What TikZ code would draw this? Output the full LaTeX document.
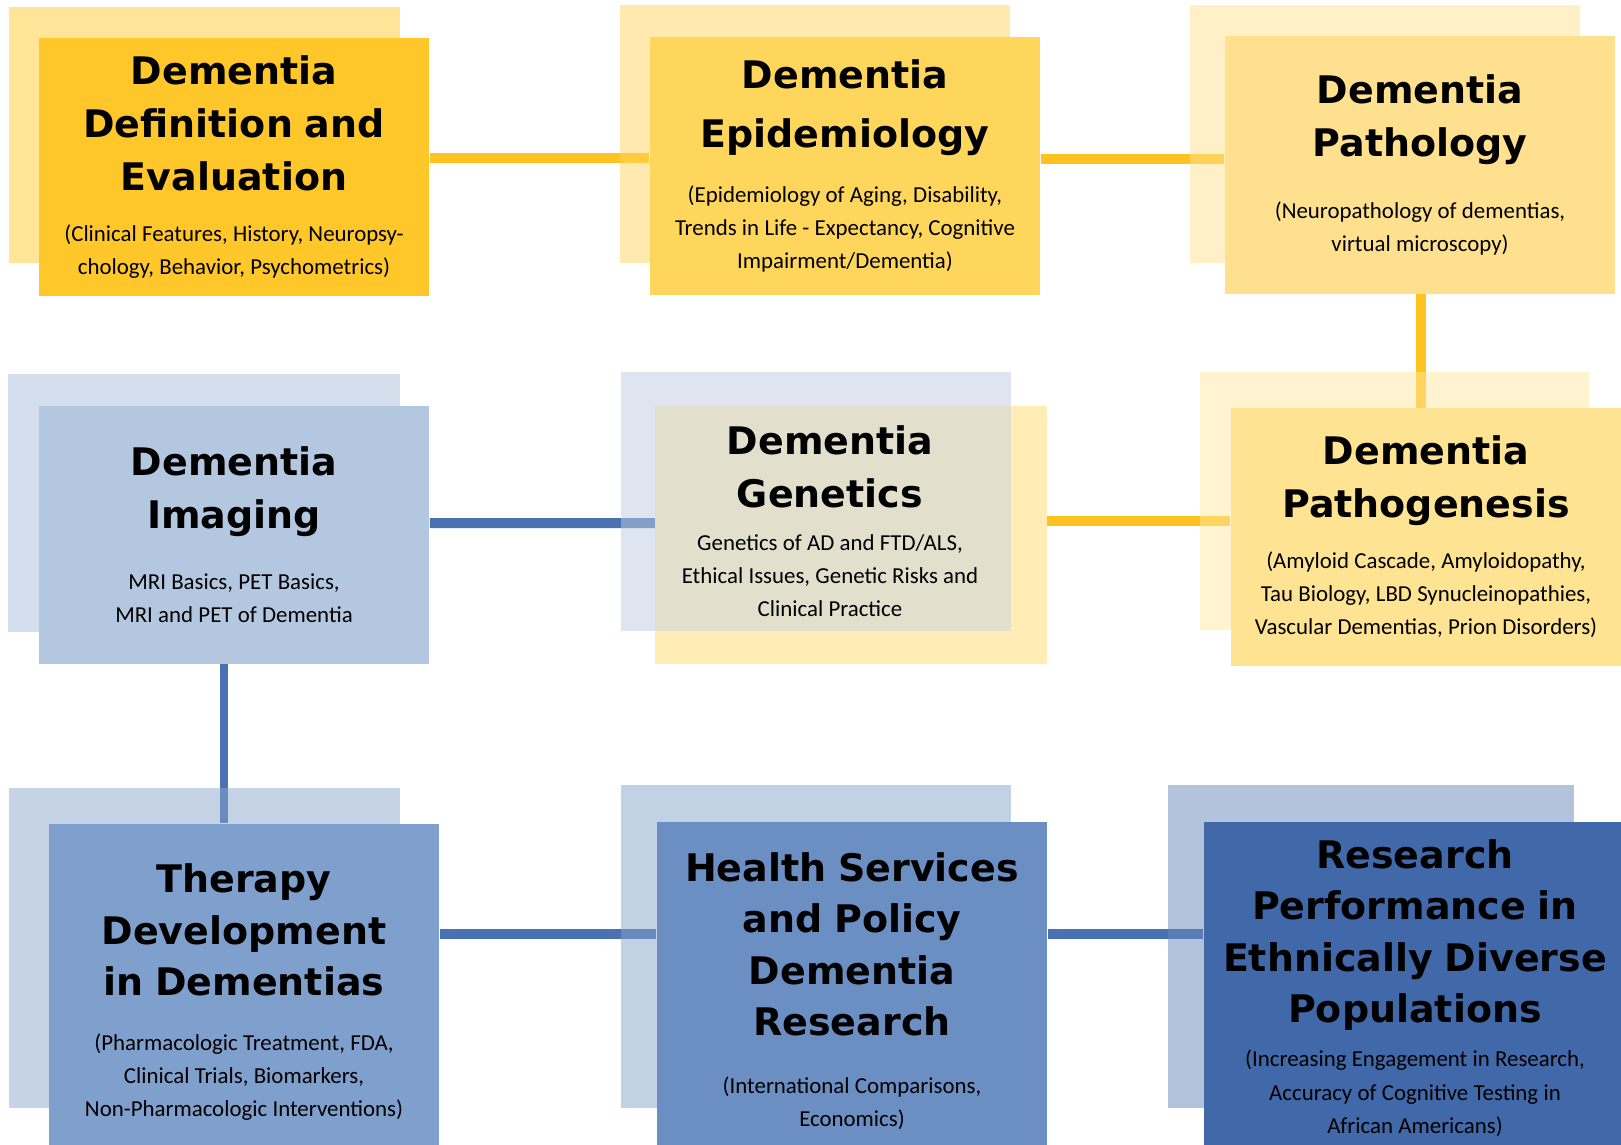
\documentclass[tikz,border=0pt]{standalone}
\usepackage{fontspec}
\setmainfont{Carlito}
\newfontfamily\headfont{DejaVu Sans}
\usepackage{xcolor}
\definecolor{defnF}{HTML}{FFC729}
\definecolor{defnB}{HTML}{FFCB2F}
\definecolor{epidF}{HTML}{FFD65C}
\definecolor{epidB}{HTML}{FFD35F}
\definecolor{pathoF}{HTML}{FEE08E}
\definecolor{pathoB}{HTML}{FFE191}
\definecolor{pathogF}{HTML}{FEE392}
\definecolor{pathogB}{HTML}{FFE7A1}
\definecolor{imagF}{HTML}{B4C7E1}
\definecolor{imagB}{HTML}{ABBDDB}
\definecolor{genetF}{HTML}{FFEDB5}
\definecolor{genetB}{HTML}{BDCBE1}
\definecolor{genetO}{HTML}{E2E0CC}
\definecolor{therF}{HTML}{7F9FCC}
\definecolor{therB}{HTML}{8DA7CF}
\definecolor{healthF}{HTML}{6B8EC3}
\definecolor{healthB}{HTML}{87A3CB}
\definecolor{resF}{HTML}{4169A9}
\definecolor{resB}{HTML}{6987B9}
\definecolor{linkY}{HTML}{FFC31F}
\definecolor{linkB}{HTML}{4A72B0}
\usetikzlibrary{positioning, calc}
\pgfdeclarelayer{links}
\pgfdeclarelayer{shadows}
\pgfsetlayers{links,shadows,main}
\newcommand{\ttl}{\headfont\bfseries\fontsize{10.8}{15}\selectfont}
\newcommand{\ttlr}{\headfont\bfseries\fontsize{10.8}{14.6}\selectfont}
\newcommand{\bdy}{\fontsize{6.5}{9.4}\selectfont\spaceskip=1.5pt\xspaceskip=1.7pt\relax}
\tikzset{
  card/.style={rectangle, inner sep=0pt, minimum width=3.9cm, minimum height=2.57cm, text width=3.85cm, align=center},
  tall/.style={card, minimum height=3.32cm},
  ylink/.style={draw=linkY, line width=0.1cm},
  blink/.style={draw=linkB, line width=0.1cm},
  shade/.style={fill opacity=0.5}
}

\begin{document}
\begin{tikzpicture}[x=0.01cm, y=-0.01cm]
    \useasboundingbox (0,0) rectangle (1621,1144);
    \clip (0,0) rectangle (1621,1144);

    % top row
    \node[card, fill=defnF] (defn) at (234,167)
    {{\ttl Dementia\\Definition and\\Evaluation\par}\vspace{5.2pt}
     {\bdy (Clinical Features, History, Neuropsy-\\chology, Behavior, Psychometrics)\par}};
    \node[card, fill=epidF] (epid) at (845,166)
    {\vspace*{1.7pt}{\ttl Dementia\\Epidemiology\par}\vspace{6.1pt}
     {\bdy (Epidemiology of Aging, Disability,\\Trends in Life - Expectancy, Cognitive\\Impairment/Dementia)\par}};
    \node[card, fill=pathoF] (patho) at (1420,165)
    {{\ttl Dementia\\Pathology\par}\vspace{8.4pt}
     {\bdy (Neuropathology of dementias,\\virtual microscopy)\par}};

    % middle row
    \node[card, fill=imagF] (imag) at (234,535)
    {{\ttl Dementia\\Imaging\par}\vspace{8pt}
     {\bdy MRI Basics, PET Basics,\\MRI and PET of Dementia\par}};
    \node[card] (genet) at (830,521)
    {{\ttl Dementia\\Genetics\par}\vspace{2.9pt}
     {\bdy Genetics of AD and FTD/ALS,\\Ethical Issues, Genetic Risks and\\Clinical Practice\par}};
    \node[card, fill=pathogF] (pathog) at (1426,537)
    {{\ttl Dementia\\Pathogenesis\par}\vspace{5.2pt}
     {\bdy (Amyloid Cascade, Amyloidopathy,\\Tau Biology, LBD Synucleinopathies,\\Vascular Dementias, Prion Disorders)\par}\vspace*{1.2pt}};

    % bottom row
    \node[tall, fill=therF, minimum height=3.36cm] (ther) at (244,992)
    {{\ttlr Therapy\\Development\\in Dementias\par}\vspace{6.2pt}
     {\bdy (Pharmacologic Treatment, FDA,\\Clinical Trials, Biomarkers,\\Non-Pharmacologic Interventions)\par}};
    \node[tall, fill=healthF, minimum height=3.38cm] (health) at (852,991)
    {{\ttlr Health Services\\and Policy\\Dementia\\Research\par}\vspace{7pt}
     {\bdy (International Comparisons,\\Economics)\par}};
    \node[tall, fill=resF, minimum width=4.22cm, text width=4.1cm] (res) at (1415,988)
    {{\ttlr Research\\Performance in\\Ethnically Diverse\\Populations\par}\vspace{3.2pt}
     {\bdy (Increasing Engagement in Research,\\Accuracy of Cognitive Testing in\\African Americans)\par}};

    % connectors
    \begin{pgfonlayer}{links}
    \draw[ylink] ([yshift=0.09cm]defn.east) -- ([yshift=0.09cm]defn.east -| epid.west);
    \draw[ylink] ([yshift=0.07cm]epid.east) -- ([yshift=0.07cm]epid.east -| patho.west);
    \draw[ylink] ([xshift=0.01cm]patho.south) -- ([xshift=0.01cm]patho.south |- pathog.north);
    \draw[blink] ([yshift=0.12cm]imag.east) -- (655,523);
    \draw[ylink] (1047,521) -- (1047,521 -| pathog.west);
    \draw[blink, line width=0.08cm] ([xshift=-0.1cm]imag.south) -- ([xshift=-0.1cm]imag.south |- ther.north);
    \draw[blink] ([yshift=0.58cm]ther.east) -- ([yshift=0.58cm]ther.east -| health.west);
    \draw[blink] ([yshift=0.57cm]health.east) -- ([yshift=0.57cm]health.east -| res.west);
    \end{pgfonlayer}

    % back panels
    \begin{pgfonlayer}{shadows}
    \fill[defnB, shade] ($(defn.north west)+(-29,-31)$) rectangle +(391,256);
    \fill[epidB, shade] ($(epid.north west)+(-29,-32)$) rectangle +(390,258);
    \fill[pathoB, shade] ($(patho.north west)+(-34,-31)$) rectangle +(390,258);
    \fill[imagB, shade] ($(imag.north west)+(-30,-32)$) rectangle +(392,258);
    \fill[genetB, shade] (621,372) rectangle (1011,631);
    \fill[genetF] (655,406) rectangle (1047,664);
    \fill[genetO] (655,406) rectangle (1011,631);
    \fill[pathogB, shade] ($(pathog.north west)+(-30,-36)$) rectangle +(389,258);
    \fill[therB, shade] ($(ther.north west)+(-39,-35)$) rectangle +(391,320);
    \fill[healthB, shade] ($(health.north west)+(-35,-36)$) rectangle +(390,323);
    \fill[resB, shade] ($(res.north west)+(-35,-36)$) rectangle +(406,323);
    \end{pgfonlayer}
\end{tikzpicture}
\end{document}
